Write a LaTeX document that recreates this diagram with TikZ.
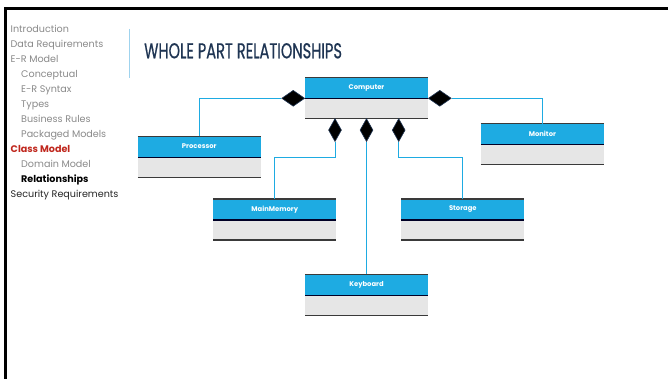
\documentclass[tikz,border=0pt]{standalone}
\usepackage{fontspec}
\setmainfont{Poppins}
\newfontfamily\titlefont[FakeStretch=0.68,FakeBold=0.6]{Poppins}
\usetikzlibrary{shapes.geometric,calc}
\definecolor{headblue}{HTML}{1EABE2}
\definecolor{bodygray}{HTML}{E6E6E6}
\definecolor{connblue}{HTML}{1EABE2}
\definecolor{navy}{HTML}{1F3553}
\definecolor{navgray}{HTML}{8A8A8A}
\definecolor{navred}{HTML}{C0281E}
\definecolor{rulegray}{HTML}{3A3A3A}
\definecolor{vblue}{HTML}{9FD3EE}
\tikzset{
  classbody/.style={fill=bodygray, minimum width=123pt, minimum height=41pt, inner sep=0pt, outer sep=0pt},
  classhead/.style={fill=headblue, minimum width=123pt, minimum height=21pt, inner sep=0pt, outer sep=0pt,
    text=white, font=\fontsize{6.8}{8}\selectfont\bfseries},
  edgerule/.style={draw=rulegray, line width=1.3pt},
  midrule/.style={draw=black!85!blue, line width=1.3pt},
  conn/.style={draw=connblue, line width=0.9pt},
  hdiamond/.style={diamond, fill=black, draw=navy, line width=0.6pt, inner sep=0pt, minimum width=23pt, minimum height=16pt},
  vdiamond/.style={diamond, fill=black, draw=navy, line width=0.6pt, inner sep=0pt, minimum width=13pt, minimum height=23pt},
  navitem/.style={anchor=base west, inner sep=0pt, font=\fontsize{9.6}{11}\selectfont},
}
\newcommand\umlclass[4]{%
  \node[classbody, anchor=north] (#1) at (#2,#3) {};
  \node[classhead, anchor=north] (#1h) at (#1.north) {\raisebox{1pt}{#4}};
  \draw[edgerule] (#1.north west) -- (#1.north east);
  \draw[midrule] (#1h.south west) -- (#1h.south east);
  \draw[edgerule] (#1.south west) -- (#1.south east);
}
\begin{document}
\begin{tikzpicture}[x=1pt,y=-1pt]
\useasboundingbox (0,0) rectangle (668,379);
\fill[white] (0,0) rectangle (668,379);
% frame
\draw[black, line width=2.6pt] (5.3,379) -- (5.3,8.5) -- (668,8.5);
% sidebar
\node[navitem, text=navgray] (n1) at (10.5,32.3) {Introduction};
\node[navitem, text=navgray] (n2) at (10.5,47.3) {Data Requirements};
\node[navitem, text=navgray] (n3) at (10.5,62.3) {E-R Model};
\node[navitem, text=navgray] (n4) at (21,77.3) {Conceptual};
\node[navitem, text=navgray] (n5) at (21,92.3) {E-R Syntax};
\node[navitem, text=navgray] (n6) at (21,107.3) {Types};
\node[navitem, text=navgray] (n7) at (21,122.3) {Business Rules};
\node[navitem, text=navgray] (n8) at (21,137.3) {Packaged Models};
\node[navitem, text=navred, font=\fontsize{9.6}{11}\selectfont\bfseries] (n9) at (10.5,152.3) {Class Model};
\node[navitem, text=navgray] (n10) at (21,167.3) {Domain Model};
\node[navitem, text=black, font=\fontsize{9.6}{11}\selectfont\bfseries] (n11) at (21,182.3) {Relationships};
\node[navitem, text=black!85] (n12) at (10.5,197.3) {Security Requirements};
% separator
\draw[vblue, line width=1pt] (129.5,29) -- (129.5,78);
% title
\node[anchor=base west, inner sep=0pt, text=navy, font=\titlefont\fontsize{21.5}{24}\selectfont] (title) at (144,58.3) {WHOLE PART RELATIONSHIPS};
% classes
\umlclass{Computer}{366.5}{77.3}{Computer}
\umlclass{Processor}{199.3}{136.3}{Processor}
\umlclass{Monitor}{542.4}{123.7}{Monitor}
\umlclass{MainMemory}{274.8}{199}{MainMemory}
\umlclass{Storage}{462.8}{199}{Storage}
\umlclass{Keyboard}{366.5}{274.3}{Keyboard}
% diamonds
\node[hdiamond, anchor=east] (dl) at (Computerh.south west) {};
\node[hdiamond, anchor=west] (dr) at (Computerh.south east) {};
\node[vdiamond, anchor=north] (d1) at ($(Computer.south)+(-31.5,0)$) {};
\node[vdiamond, anchor=north] (d2) at (Computer.south) {};
\node[vdiamond, anchor=north] (d3) at ($(Computer.south)+(32.2,0)$) {};
% connectors
\draw[conn] (dl.west) -| (Processorh.north);
\draw[conn] (dr.east) -| (Monitorh.north);
\draw[conn] (d1.south) -- ++(0,16) -| (MainMemoryh.north);
\draw[conn] (d2.south) -- (Keyboardh.north);
\draw[conn] (d3.south) -- ++(0,16) -| (Storageh.north);
\end{tikzpicture}
\end{document}
